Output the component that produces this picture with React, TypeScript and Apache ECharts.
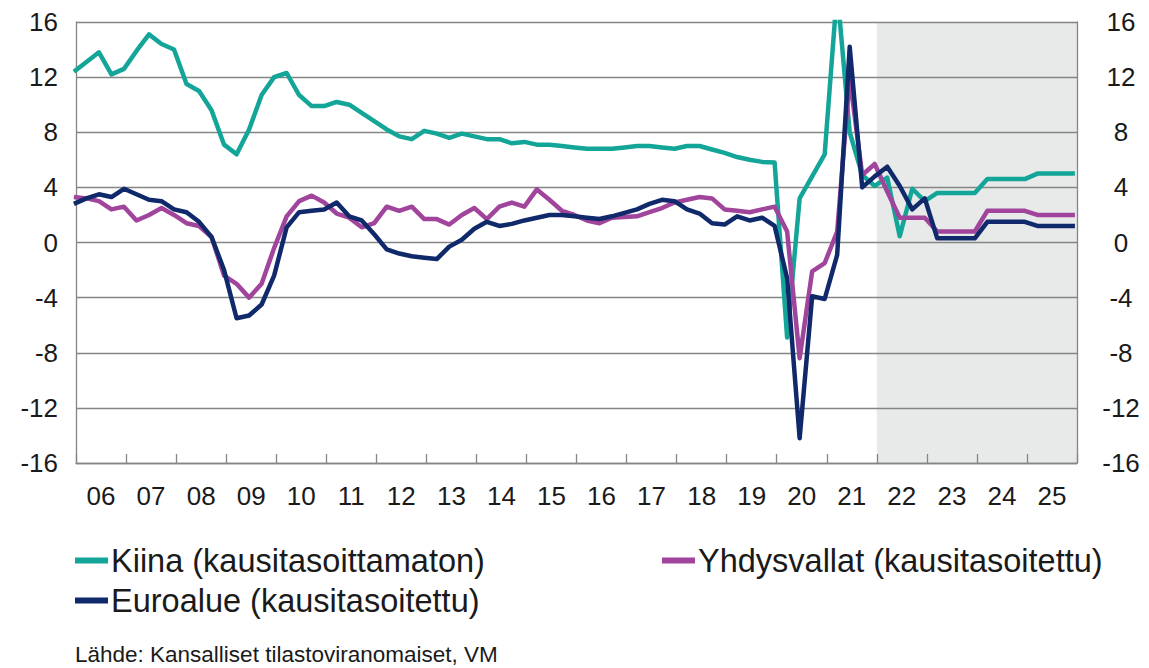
import React, { useEffect, useRef } from "react";
import * as echarts from "echarts";

// Quarterly observations, first entry 2005Q4 (clipped at the left edge), then 2006Q1 … 2025Q4
const startYear = 2005;
const startQuarter = 4;
const quarterCount = 81;

const china = [
  12.4,
  13.1, 13.8, 12.2, 12.6,
  13.9, 15.1, 14.4, 14.0,
  11.5, 11.0, 9.6, 7.1,
  6.4, 8.2, 10.7, 12.0,
  12.3, 10.7, 9.9, 9.9,
  10.2, 10.0, 9.4, 8.8,
  8.2, 7.7, 7.5, 8.1,
  7.9, 7.6, 7.9, 7.7,
  7.5, 7.5, 7.2, 7.3,
  7.1, 7.1, 7.0, 6.9,
  6.8, 6.8, 6.8, 6.9,
  7.0, 7.0, 6.9, 6.8,
  7.0, 7.0, 6.75, 6.5,
  6.2, 6.0, 5.85, 5.8,
  -6.9, 3.2, 4.8, 6.4,
  18.3, 8.0, 4.9, 4.1,
  4.7, 0.45, 3.9, 3.0,
  3.6, 3.6, 3.6, 3.6,
  4.6, 4.6, 4.6, 4.6,
  5.0, 5.0, 5.0, 5.0,
];

const usa = [
  3.3,
  3.2, 3.0, 2.4, 2.6,
  1.6, 2.0, 2.5, 2.0,
  1.4, 1.2, 0.4, -2.4,
  -3.0, -4.0, -3.0, -0.4,
  1.9, 3.0, 3.4, 2.9,
  2.1, 1.8, 1.1, 1.4,
  2.6, 2.3, 2.6, 1.7,
  1.7, 1.3, 2.0, 2.5,
  1.7, 2.6, 2.9, 2.6,
  3.85, 3.1, 2.3, 2.0,
  1.6, 1.4, 1.8, 1.85,
  1.9, 2.2, 2.5, 2.9,
  3.1, 3.3, 3.2, 2.4,
  2.3, 2.2, 2.4, 2.6,
  0.8, -8.4, -2.1, -1.5,
  0.8, 12.0, 4.9, 5.7,
  3.7, 1.8, 1.8, 1.8,
  0.8, 0.8, 0.8, 0.8,
  2.3, 2.3, 2.3, 2.3,
  2.0, 2.0, 2.0, 2.0,
];

const euro = [
  2.8,
  3.2, 3.5, 3.3, 3.9,
  3.5, 3.1, 3.0, 2.4,
  2.2, 1.5, 0.4, -2.0,
  -5.5, -5.3, -4.5, -2.4,
  1.1, 2.2, 2.3, 2.4,
  2.9, 1.9, 1.6, 0.6,
  -0.5, -0.8, -1.0, -1.1,
  -1.2, -0.3, 0.2, 1.0,
  1.5, 1.2, 1.35, 1.6,
  1.8, 2.0, 2.0, 1.9,
  1.8, 1.7, 1.9, 2.15,
  2.4, 2.8, 3.1, 3.0,
  2.4, 2.1, 1.4, 1.3,
  1.9, 1.6, 1.8, 1.2,
  -2.6, -14.2, -3.9, -4.1,
  -0.9, 14.2, 4.0, 4.8,
  5.5, 4.1, 2.4, 3.2,
  0.3, 0.3, 0.3, 0.3,
  1.5, 1.5, 1.5, 1.5,
  1.2, 1.2, 1.2, 1.2,
];

const yearLabels = ["06", "07", "08", "09", "10", "11", "12", "13", "14", "15", "16", "17", "18", "19", "20", "21", "22", "23", "24", "25"];
const yTicks = { min: -16, max: 16, interval: 4 };
const forecastStart = 2022;
const axisEnd = 2026;

const seriesNames = ["Kiina (kausitasoittamaton)", "Yhdysvallat (kausitasoitettu)", "Euroalue (kausitasoitettu)"];
const sourceText = "Lähde: Kansalliset tilastoviranomaiset, VM";

// time position of each quarter: centre of the quarter's last month
const quarterTimes: number[] = [];
for (let k = 0; k < quarterCount; k++) {
  const qIndex = startQuarter - 1 + k;
  const year = startYear + Math.floor(qIndex / 4);
  const q = (qIndex % 4) + 1;
  quarterTimes.push(year + (q * 3 - 0.5) / 12);
}
const pairs = (vals: number[]) => vals.map((v, i) => [quarterTimes[i], v]);

const FONT = "'Liberation Sans', Arial, sans-serif";
const TEXT = "#1a1a1a";
const GRID = "#858585";

export default function App() {
  const ref = useRef<HTMLDivElement>(null);
  useEffect(() => {
    if (!ref.current) return;
    const chart = echarts.init(ref.current, undefined, { renderer: "svg" });
    const lineSeries = (name: string, data: number[], color: string) => ({
      name,
      type: "line",
      data: pairs(data),
      xAxisIndex: 0,
      yAxisIndex: 0,
      showSymbol: false,
      symbol: "none",
      z: 3,
      lineStyle: { color, width: 4.5, join: "round" },
      itemStyle: { color },
    });
    chart.setOption({
      animation: false,
      backgroundColor: "#ffffff",
      textStyle: { fontFamily: FONT },
      grid: { left: 76, right: 72, top: 22, bottom: 205, containLabel: false },
      xAxis: [
        {
          type: "value",
          min: 2006,
          max: axisEnd,
          interval: 1,
          position: "bottom",
          z: 2,
          axisLine: { show: true, onZero: false, lineStyle: { color: GRID, width: 1.3 } },
          axisTick: { show: true, inside: true, length: 9, lineStyle: { color: GRID, width: 1.3 } },
          axisLabel: { show: false },
          splitLine: { show: false },
        },
        {
          type: "category",
          data: yearLabels,
          boundaryGap: true,
          position: "bottom",
          z: 2,
          axisLine: { show: false, onZero: false },
          axisTick: { show: false },
          axisLabel: { fontSize: 26, color: TEXT, margin: 20, fontFamily: FONT, interval: 0 },
          splitLine: { show: false },
        },
      ],
      yAxis: [
        {
          type: "value",
          ...yTicks,
          position: "left",
          z: 2,
          axisLine: { show: true, onZero: false, lineStyle: { color: GRID, width: 1.3 } },
          axisTick: { show: false },
          axisLabel: { fontSize: 26, color: TEXT, margin: 18, fontFamily: FONT },
          splitLine: { show: true, lineStyle: { color: GRID, width: 1.3 } },
        },
        {
          type: "value",
          ...yTicks,
          position: "right",
          z: 2,
          axisLine: { show: true, onZero: false, lineStyle: { color: GRID, width: 1.3 } },
          axisTick: { show: false },
          axisLabel: { fontSize: 26, color: TEXT, margin: 44, align: "center", fontFamily: FONT },
          splitLine: { show: false },
        },
      ],
      legend: [
        { data: [seriesNames[0]], left: 75, top: 544 },
        { data: [seriesNames[1]], left: 662, top: 544 },
        { data: [seriesNames[2]], left: 75, top: 584 },
      ].map((l) => ({
        ...l,
        icon: "rect",
        itemWidth: 33,
        itemHeight: 6,
        itemGap: 0,
        padding: 0,
        selectedMode: false,
        textStyle: { fontSize: 32.5, color: TEXT, fontFamily: FONT, padding: [0, 0, 0, -2] },
      })),
      graphic: [
        {
          type: "text",
          left: 75,
          top: 643,
          style: { text: sourceText, fontSize: 22.5, fill: TEXT, fontFamily: FONT },
        },
      ],
      series: [
        {
          name: "forecast",
          type: "line",
          data: [],
          z: 1,
          xAxisIndex: 0,
          yAxisIndex: 0,
          silent: true,
          markArea: {
            silent: true,
            itemStyle: { color: "#e8eaea" },
            data: [[{ xAxis: forecastStart }, { xAxis: axisEnd }]],
          },
        },
        lineSeries(seriesNames[0], china, "#13a598"),
        lineSeries(seriesNames[1], usa, "#a0449c"),
        lineSeries(seriesNames[2], euro, "#10296b"),
      ],
    });
    return () => chart.dispose();
  }, []);
  return <div ref={ref} style={{ position: "fixed", left: 0, top: 0, width: 1149, height: 668 }} />;
}
